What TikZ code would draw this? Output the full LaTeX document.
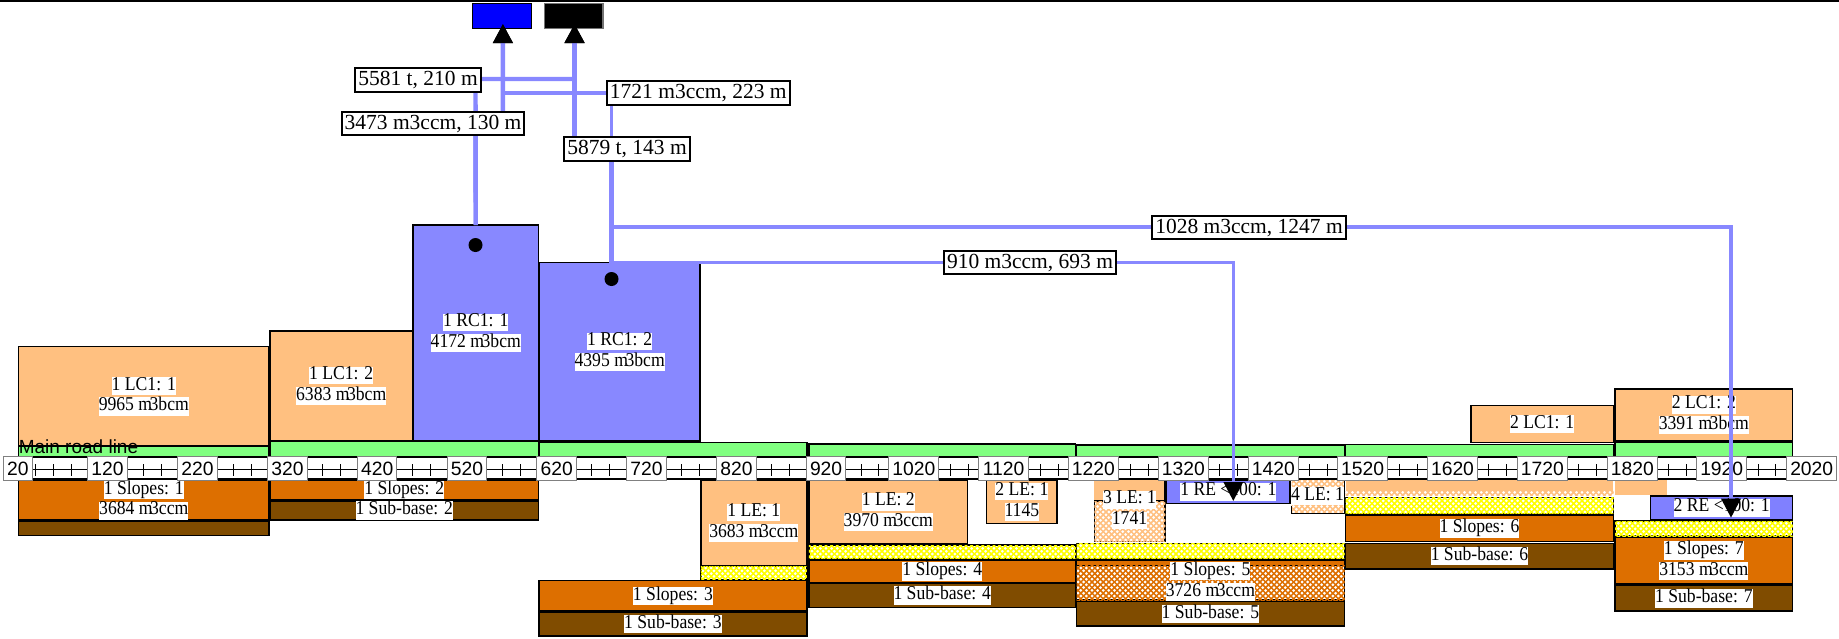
\documentclass[tikz,border=0pt]{standalone}
\usepackage{fontspec}
\setmainfont{Liberation Serif}
\newfontfamily\boxfont[FakeStretch=0.9]{Liberation Serif}
\newfontfamily\rulerfont{Liberation Sans}
\usetikzlibrary{patterns,arrows.meta,calc}
\definecolor{lcfill}{HTML}{FFC080}
\definecolor{greenfill}{HTML}{80FF80}
\definecolor{bluefill}{HTML}{8888FF}
\definecolor{slopefill}{HTML}{DD6F00}
\definecolor{subfill}{HTML}{804C00}
\definecolor{refill}{HTML}{8080FF}
\definecolor{linkblue}{HTML}{8888FF}
\pgfdeclarepatternformonly{hatchx}{\pgfqpoint{-1pt}{-1pt}}{\pgfqpoint{6.6pt}{6.6pt}}{\pgfqpoint{5.6pt}{5.6pt}}{%
  \pgfsetlinewidth{1.5pt}%
  \pgfpathmoveto{\pgfqpoint{-0.5pt}{-0.5pt}}\pgfpathlineto{\pgfqpoint{6.1pt}{6.1pt}}%
  \pgfpathmoveto{\pgfqpoint{6.1pt}{-0.5pt}}\pgfpathlineto{\pgfqpoint{-0.5pt}{6.1pt}}%
  \pgfusepath{stroke}}
\setlength{\fboxsep}{0pt}
\newcommand{\wb}[1]{\colorbox{white}{\rule[-4.8pt]{0pt}{15.9pt}#1}}
\newcommand{\mthree}[1]{m\kern-2.5pt 3#1}
\tikzset{
  x=1pt,y=-1pt,
  blk/.style={draw=black,line width=1.4pt,inner sep=0pt,outer sep=0pt,
    font=\boxfont\fontsize{19.6}{20.7}\selectfont,align=center},
  lcbox/.style={blk,fill=lcfill},
  greenbox/.style={blk,fill=greenfill},
  rcbox/.style={blk,fill=bluefill},
  slopebox/.style={blk,fill=slopefill},
  subbox/.style={blk,fill=subfill},
  rebox/.style={blk,fill=refill},
  yellowbox/.style={blk,fill=white,postaction={pattern=hatchx,pattern color=yellow}},
  lchatch/.style={blk,fill=white,postaction={pattern=hatchx,pattern color=lcfill}},
  slopehatch/.style={blk,fill=white,postaction={pattern=hatchx,pattern color=slopefill}},
  txt/.style={inner sep=0pt,outer sep=0pt,font=\boxfont\fontsize{19.6}{20.7}\selectfont,align=center},
  flowlabel/.style={draw=black,line width=2pt,fill=white,inner sep=3pt,
    font=\fontsize{21.5}{22}\selectfont},
  rulerlabel/.style={draw=black!50,line width=1pt,fill=white,minimum height=24pt,inner sep=0pt,
    font=\rulerfont\fontsize{19.3}{20}\selectfont},
  thickflow/.style={draw=linkblue,line width=4.4pt},
  thinflow/.style={draw=linkblue,line width=3.2pt},
  head/.style={-{Triangle[length=19pt,width=19pt,color=black,fill=black]},shorten >=0pt},
  dotmark/.style={circle,fill=black,minimum size=14pt,inner sep=0pt},
}
% \bx{style}{name}{x1}{y1}{x2}{y2}{text}
\newcommand{\bx}[7]{%
  \pgfmathsetmacro{\bw}{#5-#3}\pgfmathsetmacro{\bh}{#6-#4}%
  \pgfmathsetmacro{\cx}{(#3+#5)/2}\pgfmathsetmacro{\cy}{(#4+#6)/2}%
  \node[#1,minimum width=\bw pt,minimum height=\bh pt] (#2) at (\cx,\cy) {#7};}
\begin{document}
\begin{tikzpicture}
\useasboundingbox (0,0) rectangle (1839,638);
\clip (0,0) rectangle (1839,638);
\fill[white] (0,0) rectangle (1839,638);
\draw[black,line width=3.6pt] (0,0) -- (1839,0);

% sources
\bx{blk,fill=blue,draw=black}{blue}{472.5}{3.5}{531.5}{28.5}{}
\bx{blk,fill=black,draw=black!55}{blackb}{544.5}{3.5}{603}{28.5}{}

% carriageway strips
\bx{greenbox}{g1}{18.6}{446.7}{269}{457.3}{}
\bx{greenbox}{g2}{270}{441.7}{538.5}{456.7}{}
\bx{greenbox}{g3}{539}{442.7}{806.8}{456.7}{}
\bx{greenbox}{g4}{808.8}{444}{1075.7}{457.3}{}
\bx{greenbox}{g5}{1076.5}{445}{1344.3}{457.3}{}
\bx{greenbox}{g6}{1345.7}{444.7}{1613.3}{456.7}{}
\bx{greenbox}{g7}{1615}{442.3}{1792.7}{456.7}{}

% cuts above the line
\bx{lcbox}{lca}{18.6}{346.7}{269}{446}{\wb{1 LC1: 1}\\\wb{9965 \mthree{bcm}}}
\bx{lcbox}{lcb}{270}{331}{412.4}{440.7}{\wb{1 LC1: 2}\\\wb{6383 \mthree{bcm}}}
\bx{rcbox}{rca}{413}{225}{538.5}{440.7}{\wb{1 RC1: 1}\\\wb{4172 \mthree{bcm}}}
\bx{rcbox}{rcb}{539.3}{262.7}{700}{441}{\wb{1 RC1: 2}\\\wb{4395 \mthree{bcm}}}
\bx{lcbox}{lcc}{1471}{405.7}{1613.3}{442.3}{\wb{2 LC1: 1}}
\bx{lcbox}{lcd}{1615}{389}{1792.7}{441}{\wb{2 LC1: 2}\\\wb{3391 \mthree{bcm}}}
\node[dotmark] (dota) at (475.5,245) {};
\node[dotmark] (dotb) at (611.5,279) {};

% lower layers
\bx{slopebox}{sa}{18.6}{480}{269}{520}{\wb{1 Slopes: 1}\\\wb{3684 \mthree{ccm}}}
\bx{subbox}{ba}{18.6}{521}{269}{535.3}{}
\bx{slopebox}{sb}{270}{480}{538.5}{500}{\wb{1 Slopes: 2}}
\bx{subbox}{bb}{270}{501}{538.5}{520}{\wb{1 Sub-base: 2}}

\bx{lcbox}{lea}{700.8}{480}{806.8}{565.7}{\wb{1 LE: 1}\\\wb{3683 \mthree{ccm}}}
\bx{yellowbox}{ya}{700.8}{566.7}{806.8}{579.3}{}
\bx{slopebox}{sc}{539}{580.7}{806.8}{611}{\wb{1 Slopes: 3}}
\bx{subbox}{bc}{539}{612.3}{806.8}{636}{\wb{1 Sub-base: 3}}

\bx{lcbox}{leb}{808.8}{480}{967.7}{544}{\wb{1 LE: 2}\\\wb{3970 \mthree{ccm}}}
\bx{lcbox}{lec}{986.7}{480}{1057}{523.7}{\wb{2 LE: 1}\\\wb{1145}}
\bx{yellowbox}{yb}{808.8}{545}{1075.7}{558.3}{}
\bx{slopebox}{sd}{808.8}{560}{1075.7}{582.7}{\wb{1 Slopes: 4}}
\bx{subbox}{bd}{808.8}{583.3}{1075.7}{607.7}{\wb{1 Sub-base: 4}}

\bx{lcbox,draw=none}{ledtop}{1094.3}{480}{1165}{501}{}
\bx{lchatch}{led}{1094.3}{501}{1165}{541.7}{}
\draw[black,line width=1.4pt] (ledtop.north east) -- (ledtop.south east);
\node[txt] (ledt) at (1129.5,510) {\wb{3 LE: 1}\\\wb{1741}};
\bx{rebox}{rea}{1166.7}{480}{1290}{503.3}{\wb{1 RE <100: 1}}
\bx{lchatch,draw=none}{lee}{1291.7}{480}{1344.3}{513.3}{}
\draw[black,line width=1.4pt] ($(lee.south west)+(0,-7)$) -- (lee.south west) -- (lee.south east) -- (lee.north east);
\node[txt] (leet) at (1317.5,496) {\wb{4 LE: 1}};
\bx{yellowbox}{yc}{1076.5}{543.3}{1344.3}{558.3}{}
\bx{slopebox}{setop}{1076.5}{560}{1344.3}{565.5}{}
\bx{slopehatch}{se}{1076.5}{565.5}{1344.3}{600}{}
\node[txt] (set) at (1210.4,581.5) {\wb{1 Slopes: 5}\\\wb{3726 \mthree{ccm}}};
\bx{subbox}{be}{1076.5}{601.7}{1344.3}{626}{\wb{1 Sub-base: 5}}

\bx{lcbox,draw=none}{lef}{1345.7}{480}{1613.3}{491}{}
\bx{lchatch,draw=none}{leg}{1345.7}{491}{1613.3}{495.5}{}
\bx{lcbox,draw=none}{leh}{1615}{480}{1667.3}{495}{}
\bx{yellowbox}{yd}{1345.7}{497.5}{1613.3}{514}{}
\bx{slopebox}{sf}{1345.7}{515}{1613.3}{541.7}{\wb{1 Slopes: 6}}
\bx{subbox}{bf}{1345.7}{543.3}{1613.3}{569}{\wb{1 Sub-base: 6}}

\bx{rebox}{reb}{1650.7}{496}{1792.7}{519.3}{\wb{2 RE <100: 1}}
\bx{yellowbox}{ye}{1615}{521}{1792.7}{536}{}
\bx{slopebox}{sg}{1615}{537.3}{1792.7}{584}{\wb{1 Slopes: 7}\\\wb{3153 \mthree{ccm}}}
\bx{subbox}{bg}{1615}{585.7}{1792.7}{611}{\wb{1 Sub-base: 7}}

% ruler
\node[draw=black,line width=1.8pt,fill=white,inner sep=0pt,minimum width=1795pt,minimum height=22pt] (ruler) at (919,468.3) {};
\coordinate (rl) at (17.8,469.3);
\coordinate (rr) at (1811.7,469.3);
\draw[black,line width=.9pt] (rl) -- (rr);
\foreach \k in {0,...,100}{
  \pgfmathsetmacro{\tx}{17.8+17.94*\k}
  \draw[black,line width=.9pt] (\tx,464) -- (\tx,476);
}
\node[rulerlabel,minimum width=29pt] (r20) at (17.8,468.7) {20};
\foreach \v/\c in {120/107.5,220/197.4,320/287.4,420/377.2,520/466.9,620/556.7,720/646.5,820/736.4,920/826.1}{
  \node[rulerlabel,minimum width=39.5pt] (r\v) at (\c,468.7) {\v};
}
\foreach \v/\c in {1020/913.9,1120/1003.6,1220/1093.4,1320/1183.3,1420/1273.3,1520/1362.7,1620/1452.5,1720/1542.3,1820/1632.3,1920/1721.7,2020/1811.7}{
  \node[rulerlabel,minimum width=50pt] (r\v) at (\c,468.7) {\v};
}
\node[anchor=west,inner sep=0pt,font=\rulerfont\fontsize{19}{20}\selectfont] (roadline) at (18.6,447) {Main road line};

% connectors
\coordinate (hA) at (475.5,79);
\coordinate (hB) at (475.5,124);
\coordinate (hC) at (611.5,93);
\coordinate (hD) at (611.5,149);
\coordinate (tB) at ($(blue.south)+(0.9,-4.5)$);
\coordinate (tK) at ($(blackb.south)+(0.8,-4.5)$);
\coordinate (sb1) at (dotb |- rcb.north);
\coordinate (hE) at (611.5,227);
\coordinate (tE) at (1731,517.7);
\coordinate (tF) at (1233.3,501);
\draw[thickflow,head] (rca.north) -- (hA) -| (tK);
\draw[thickflow,head] (rca.north) -- (hB) -| (tB);
\draw[thickflow,head] (sb1) -- (hD) -| (tK);
\draw[thinflow,head] (sb1) -- (hC) -| (tB);
\draw[thickflow] (sb1) -- (hD);
\draw[thinflow,head] (sb1) -| (tF);
\draw[thinflow,head] (hE) -| (tE);

% flow labels
\node[flowlabel] (fa) at (418,80) {5581 t, 210 m};
\node[flowlabel] (fb) at (433,123.5) {3473 m3ccm, 130 m};
\node[flowlabel] (fc) at (698.3,93) {1721 m3ccm, 223 m};
\node[flowlabel] (fd) at (627,149) {5879 t, 143 m};
\node[flowlabel] (fe) at (1030,262.5) {910 m3ccm, 693 m};
\node[flowlabel] (ff) at (1249,227.5) {1028 m3ccm, 1247 m};
\end{tikzpicture}
\end{document}
